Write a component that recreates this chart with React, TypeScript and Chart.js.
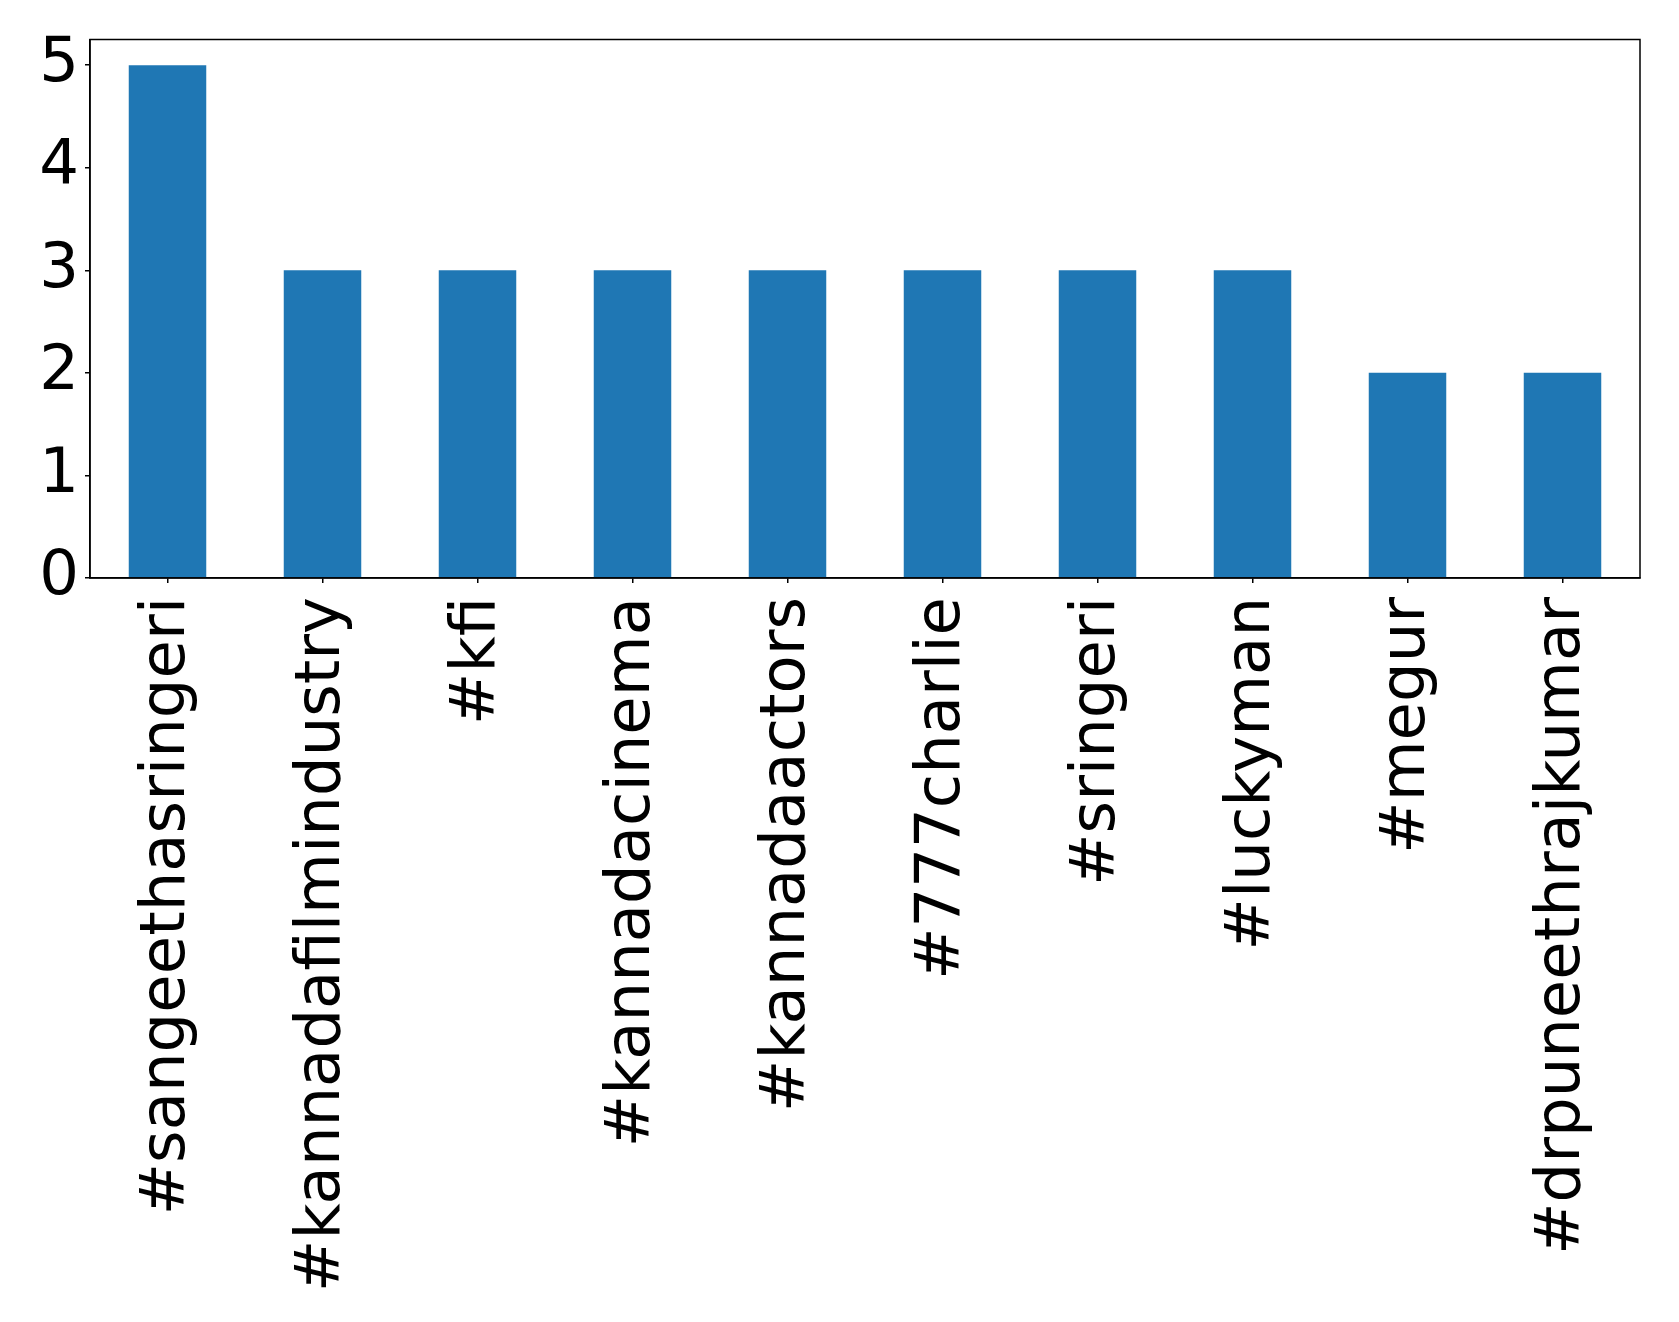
import React, { useEffect, useRef } from "react";
import { Chart, registerables } from "chart.js";

Chart.register(...registerables);

const categories = [
  "#sangeethasringeri",
  "#kannadafilmindustry",
  "#kfi",
  "#kannadacinema",
  "#kannadaactors",
  "#777charlie",
  "#sringeri",
  "#luckyman",
  "#megur",
  "#drpuneethrajkumar",
];
const counts = [5, 3, 3, 3, 3, 3, 3, 3, 2, 2];
const yTicks = [0, 1, 2, 3, 4, 5];

const W = 1679;
const H = 1322;

const framePlugin = {
  id: "frame",
  afterDraw(chart: any) {
    const { ctx, chartArea } = chart;
    ctx.save();
    ctx.strokeStyle = "#000";
    ctx.lineWidth = 1.5;
    ctx.strokeRect(chartArea.left, chartArea.top, chartArea.right - chartArea.left, chartArea.bottom - chartArea.top);
    ctx.restore();
  },
};

export default function App() {
  const ref = useRef<HTMLCanvasElement>(null);
  useEffect(() => {
    if (!ref.current) return;
    const chart = new Chart(ref.current, {
      type: "bar",
      data: {
        labels: categories,
        datasets: [
          {
            data: counts,
            backgroundColor: "#1f77b4",
            barPercentage: 0.5,
            categoryPercentage: 1,
          },
        ],
      },
      options: {
        responsive: false,
        animation: false,
        layout: { padding: { top: 39.5, right: 39, left: 0, bottom: 0 } },
        plugins: { legend: { display: false }, tooltip: { enabled: false } },
        scales: {
          x: {
            offset: true,
            grid: { display: true, offset: false, drawOnChartArea: false, drawTicks: true, tickLength: 5, color: "#000", lineWidth: 1.5 },
            border: { display: true, color: "#000", width: 1.5 },
            ticks: {
              color: "#000",
              font: { family: "DejaVu Sans", size: 62.5 },
              minRotation: 90,
              maxRotation: 90,
              autoSkip: false,
              padding: 14,
            },
            afterFit: (s: any) => {
              s.height = H - 578;
              s.paddingLeft = 0;
              s.paddingRight = 0;
            },
          },
          y: {
            min: 0,
            max: 5.25,
            afterBuildTicks: (s: any) => {
              s.ticks = yTicks.map((v) => ({ value: v }));
            },
            grid: { display: true, drawOnChartArea: false, drawTicks: true, tickLength: 5, color: "#000", lineWidth: 1.5 },
            border: { display: true, color: "#000", width: 1.5 },
            ticks: {
              color: "#000",
              font: { family: "DejaVu Sans", size: 62.5 },
              padding: 6,
            },
            afterFit: (s: any) => {
              s.width = 90;
              s.paddingTop = 0;
              s.paddingBottom = 0;
            },
          },
        },
      },
      plugins: [framePlugin],
    });
    return () => chart.destroy();
  }, []);
  return (
    <div style={{ position: "fixed", left: 0, top: 0, width: W, height: H, background: "#fff" }}>
      <canvas ref={ref} width={W} height={H} style={{ width: W, height: H }} />
    </div>
  );
}
